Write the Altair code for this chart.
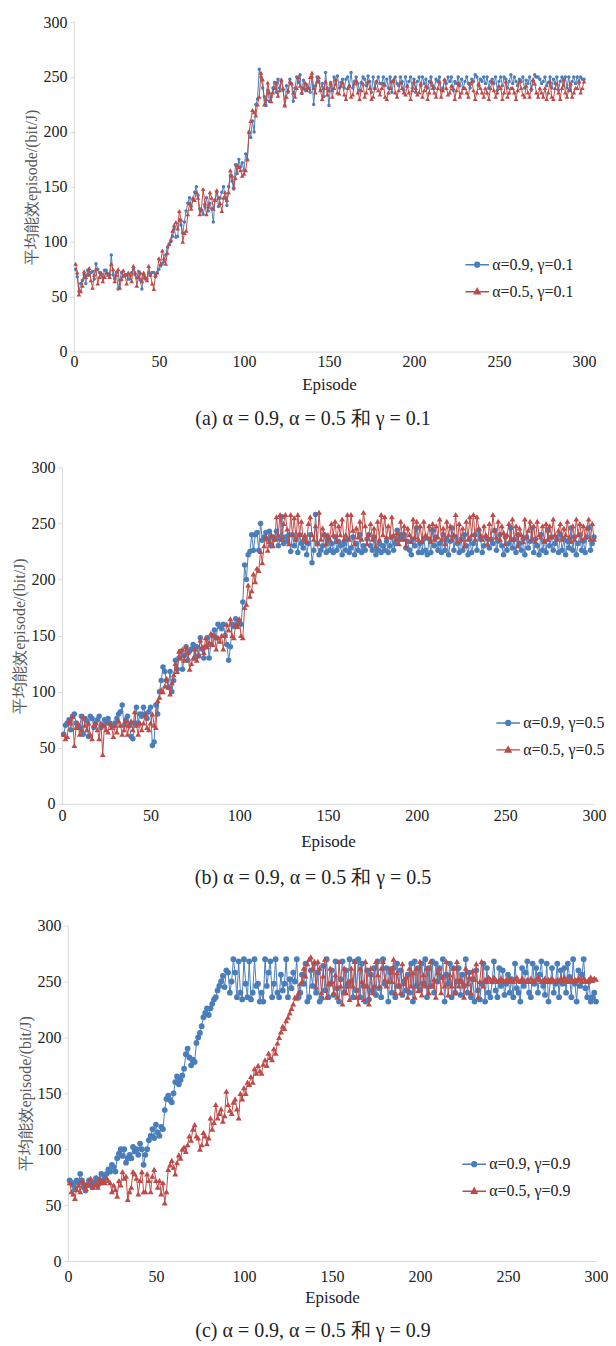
import altair as alt
import pandas as pd

episodes = list(range(1, 301))

series_names_a = ["α=0.9, γ=0.1", "α=0.5, γ=0.1"]
series_names_b = ["α=0.9, γ=0.5", "α=0.5, γ=0.5"]
series_names_c = ["α=0.9, γ=0.9", "α=0.5, γ=0.9"]

captions = [
    "(a)  α = 0.9, α = 0.5 和 γ = 0.1",
    "(b)  α = 0.9, α = 0.5 和 γ = 0.5",
    "(c)  α = 0.9, α = 0.5 和 γ = 0.9",
]

a_blue = [
    75, 68, 55, 62, 65, 70, 62, 74, 70, 72, 73, 66, 80, 75, 72, 70, 68, 74, 74, 71,
    70, 88, 70, 66, 72, 57, 65, 72, 68, 70, 70, 66, 66, 72, 75, 70, 67, 73, 65, 57,
    70, 66, 66, 72, 70, 72, 72, 68, 72, 75, 78, 80, 82, 88, 95, 98, 100, 105, 112, 104,
    105, 120, 115, 108, 118, 128, 135, 140, 132, 138, 145, 150, 142, 130, 128, 125, 132, 140, 128, 135,
    130, 118, 138, 145, 132, 140, 145, 150, 140, 133, 150, 160, 155, 148, 170, 162, 175, 168, 172, 165,
    180, 175, 200, 195, 210, 200, 225, 230, 257, 250, 240, 232, 224, 238, 228, 232, 240, 245, 236, 248,
    240, 246, 238, 224, 242, 236, 248, 244, 228, 240, 250, 245, 252, 235, 247, 238, 243, 240, 236, 250,
    225, 242, 250, 246, 238, 244, 232, 254, 240, 224, 245, 238, 250, 243, 251, 240, 245, 248, 240, 248,
    250, 242, 254, 240, 246, 250, 244, 238, 245, 250, 248, 242, 251, 246, 236, 250, 240, 246, 250, 244,
    244, 250, 242, 248, 240, 250, 236, 246, 250, 244, 242, 250, 246, 238, 250, 242, 246, 250, 240, 248,
    236, 246, 250, 242, 250, 244, 248, 240, 246, 250, 242, 240, 248, 246, 250, 238, 240, 247, 244, 250,
    246, 250, 238, 246, 244, 250, 242, 248, 240, 246, 250, 244, 240, 248, 246, 252, 250, 242, 248, 246,
    250, 244, 250, 240, 246, 248, 244, 250, 238, 246, 250, 242, 250, 248, 240, 246, 252, 244, 250, 246,
    242, 248, 246, 250, 240, 247, 244, 250, 238, 246, 252, 250, 250, 248, 244, 246, 250, 242, 245, 250,
    240, 248, 244, 250, 238, 246, 250, 242, 250, 240, 250, 238, 246, 250, 244, 250, 246, 250, 248, 248,
]
a_red = [
    80, 72, 52, 55, 60, 73, 68, 70, 76, 65, 58, 70, 75, 62, 68, 72, 64, 68, 72, 70,
    68, 80, 75, 64, 70, 75, 58, 66, 74, 70, 62, 72, 70, 64, 78, 72, 60, 68, 72, 64,
    72, 68, 65, 78, 70, 62, 57, 70, 72, 85, 80, 92, 85, 80, 90, 98, 102, 110, 115, 118,
    112, 128, 120, 100, 108, 110, 125, 135, 130, 140, 138, 145, 140, 125, 130, 148, 135, 125, 132, 145,
    140, 130, 138, 147, 140, 135, 128, 140, 145, 138, 145, 165, 160, 150, 158, 170, 168, 165, 160, 162,
    165, 175, 200, 210, 220, 218, 215, 225, 232, 254, 248, 225, 230, 245, 236, 228, 236, 240, 245, 233,
    238, 248, 240, 224, 232, 238, 246, 244, 236, 232, 240, 250, 242, 236, 240, 245, 238, 240, 250, 254,
    240, 236, 246, 250, 238, 230, 240, 246, 234, 238, 244, 232, 240, 248, 236, 235, 242, 245, 234, 230,
    240, 242, 232, 234, 244, 247, 236, 230, 238, 244, 232, 236, 246, 240, 230, 232, 240, 246, 238, 234,
    240, 244, 232, 230, 236, 240, 246, 248, 236, 232, 238, 245, 240, 236, 234, 242, 236, 230, 238, 246,
    240, 234, 236, 244, 232, 238, 242, 230, 236, 246, 240, 236, 232, 240, 246, 232, 238, 248, 240, 234,
    236, 242, 240, 230, 238, 245, 232, 236, 240, 240, 236, 232, 244, 246, 238, 230, 236, 244, 240, 236,
    232, 240, 236, 230, 240, 246, 238, 232, 236, 242, 240, 230, 236, 246, 232, 236, 240, 240, 236, 230,
    238, 246, 240, 234, 232, 242, 236, 232, 240, 248, 244, 236, 232, 240, 236, 232, 240, 230, 236, 246,
    232, 230, 240, 244, 236, 230, 240, 248, 236, 232, 238, 244, 232, 236, 240, 240, 246, 236, 240, 246,
]
b_blue = [
    62, 70, 72, 75, 66, 78, 80, 72, 70, 68, 78, 62, 76, 74, 60, 78, 76, 68, 72, 75,
    78, 68, 70, 75, 72, 76, 72, 70, 70, 72, 76, 80, 82, 88, 70, 75, 78, 70, 60, 58,
    72, 86, 72, 80, 78, 86, 80, 76, 82, 86, 52, 55, 88, 80, 100, 110, 122, 118, 110, 104,
    118, 100, 110, 128, 120, 130, 136, 120, 132, 140, 128, 136, 138, 142, 130, 140, 132, 148, 138, 130,
    140, 148, 130, 142, 150, 155, 148, 160, 158, 156, 160, 150, 142, 128, 140, 160, 158, 165, 160, 162,
    160, 180, 213, 200, 222, 225, 240, 226, 240, 242, 226, 250, 235, 238, 242, 236, 243, 230, 238, 236,
    243, 230, 236, 256, 232, 238, 234, 240, 225, 240, 230, 236, 224, 240, 232, 228, 236, 222, 232, 240,
    215, 226, 258, 232, 222, 226, 230, 240, 224, 236, 226, 232, 224, 238, 226, 234, 230, 222, 232, 226,
    236, 224, 228, 238, 222, 232, 226, 240, 224, 230, 226, 236, 240, 230, 226, 238, 222, 226, 232, 224,
    230, 226, 234, 224, 230, 238, 226, 232, 244, 236, 240, 236, 240, 228, 234, 226, 222, 236, 230, 246,
    224, 232, 224, 236, 226, 222, 236, 224, 244, 230, 238, 226, 232, 224, 240, 226, 236, 222, 234, 246,
    226, 238, 232, 224, 236, 226, 240, 230, 222, 236, 224, 232, 240, 226, 244, 236, 224, 230, 238, 236,
    228, 236, 232, 244, 226, 234, 240, 230, 222, 238, 226, 232, 246, 228, 236, 224, 240, 232, 226, 236,
    222, 238, 228, 234, 246, 224, 236, 230, 222, 240, 226, 234, 224, 244, 230, 238, 226, 232, 236, 224,
    240, 226, 236, 222, 234, 228, 246, 226, 238, 222, 232, 240, 226, 234, 224, 238, 246, 226, 232, 238,
]
b_red = [
    62, 58, 60, 74, 72, 78, 52, 68, 72, 62, 66, 78, 70, 66, 72, 62, 58, 70, 72, 66,
    58, 72, 44, 70, 66, 64, 72, 68, 60, 70, 64, 74, 70, 62, 66, 74, 62, 70, 74, 66,
    82, 70, 62, 72, 66, 72, 80, 68, 66, 72, 80, 70, 68, 92, 95, 102, 100, 105, 112, 104,
    98, 108, 115, 125, 118, 136, 130, 138, 128, 140, 135, 120, 125, 130, 138, 128, 132, 146, 140, 135,
    148, 140, 144, 152, 142, 150, 138, 148, 145, 150, 138, 150, 160, 155, 165, 150, 148, 160, 158, 165,
    150, 148, 175, 178, 195, 185, 190, 205, 198, 210, 208, 225, 215, 230, 238, 226, 234, 240, 230, 236,
    256, 240, 258, 236, 250, 258, 245, 232, 258, 240, 255, 236, 258, 240, 252, 236, 240, 234, 250, 256,
    240, 236, 248, 232, 260, 236, 246, 240, 232, 240, 236, 250, 240, 252, 234, 248, 240, 254, 236, 240,
    258, 236, 258, 244, 232, 246, 238, 252, 236, 260, 248, 232, 240, 250, 236, 246, 230, 252, 236, 258,
    240, 256, 238, 248, 238, 256, 240, 236, 242, 232, 252, 236, 248, 230, 246, 240, 234, 254, 238, 252,
    236, 248, 234, 252, 240, 238, 248, 234, 250, 236, 248, 238, 254, 236, 246, 232, 252, 240, 248, 236,
    240, 258, 234, 250, 236, 246, 230, 252, 236, 256, 240, 258, 236, 256, 246, 240, 236, 248, 240, 232,
    250, 236, 258, 244, 238, 252, 236, 248, 242, 232, 240, 250, 236, 254, 236, 248, 230, 246, 240, 234,
    254, 238, 244, 252, 236, 248, 234, 252, 240, 238, 248, 234, 250, 236, 248, 238, 254, 240, 236, 244,
    250, 236, 246, 240, 252, 238, 234, 248, 236, 254, 240, 250, 236, 248, 238, 246, 254, 236, 250, 236,
]
c_blue = [
    72, 70, 68, 64, 72, 70, 78, 72, 66, 63, 68, 72, 68, 66, 70, 74, 68, 70, 78, 72,
    75, 78, 82, 80, 86, 84, 80, 92, 96, 100, 94, 100, 88, 92, 95, 92, 102, 98, 100, 95,
    105, 100, 86, 95, 100, 108, 112, 118, 110, 122, 115, 112, 120, 118, 135, 145, 148, 144, 142, 150,
    160, 165, 158, 162, 166, 172, 185, 190, 182, 175, 180, 178, 195, 200, 204, 210, 218, 222, 226, 220,
    226, 230, 234, 236, 242, 246, 250, 255, 245, 260, 258, 240, 250, 270, 258, 236, 268, 240, 234, 270,
    248, 236, 268, 234, 240, 270, 246, 248, 232, 240, 232, 270, 246, 258, 268, 236, 248, 270, 240, 236,
    256, 242, 248, 270, 236, 252, 244, 258, 250, 270, 236, 240, 256, 248, 266, 232, 236, 260, 246, 266,
    240, 258, 232, 235, 264, 242, 270, 236, 248, 260, 238, 268, 244, 232, 252, 268, 240, 260, 246, 270,
    250, 236, 268, 242, 270, 236, 266, 246, 232, 260, 234, 256, 242, 262, 238, 268, 244, 236, 270, 248,
    262, 232, 258, 240, 262, 236, 266, 246, 260, 238, 250, 242, 256, 240, 266, 232, 268, 246, 262, 242,
    266, 248, 270, 236, 262, 246, 268, 240, 266, 250, 262, 254, 270, 232, 256, 248, 266, 236, 262, 240,
    250, 262, 238, 256, 246, 270, 240, 258, 236, 252, 232, 260, 242, 234, 248, 266, 232, 262, 240, 236,
    250, 268, 242, 236, 262, 246, 260, 238, 248, 256, 240, 252, 236, 266, 244, 240, 232, 262, 246, 258,
    268, 240, 236, 266, 248, 262, 240, 256, 268, 246, 238, 266, 232, 250, 262, 240, 248, 266, 236, 260,
    248, 262, 240, 266, 254, 236, 270, 248, 232, 260, 246, 256, 270, 244, 236, 250, 232, 236, 240, 232,
]
c_red = [
    70, 62, 60, 56, 64, 68, 62, 72, 70, 65, 68, 70, 74, 66, 68, 70, 66, 74, 70, 72,
    70, 74, 72, 70, 62, 68, 64, 58, 72, 68, 80, 74, 76, 55, 62, 66, 80, 78, 74, 60,
    72, 80, 62, 62, 78, 72, 62, 76, 82, 72, 66, 72, 60, 70, 52, 62, 82, 86, 90, 84,
    78, 88, 95, 92, 100, 102, 98, 104, 112, 108, 118, 122, 112, 110, 100, 104, 115, 112, 105, 110,
    128, 118, 124, 140, 128, 132, 136, 125, 130, 152, 140, 135, 132, 142, 145, 136, 128, 150, 145, 155,
    150, 160, 158, 165, 160, 172, 168, 175, 170, 168, 176, 180, 175, 186, 182, 180, 190, 186, 195, 200,
    205, 210, 208, 215, 218, 222, 226, 230, 236, 235, 240, 248, 250, 262, 255, 266, 270, 272, 262, 268,
    245, 268, 262, 240, 255, 270, 236, 248, 262, 250, 240, 256, 236, 268, 246, 230, 262, 240, 250, 234,
    262, 246, 268, 236, 230, 262, 250, 234, 268, 246, 230, 262, 240, 246, 268, 256, 246, 262, 268, 252,
    246, 250, 262, 250, 270, 240, 258, 246, 240, 266, 248, 254, 236, 262, 246, 258, 236, 262, 242, 268,
    238, 256, 246, 262, 240, 268, 246, 252, 236, 258, 262, 240, 254, 246, 268, 238, 256, 246, 262, 240,
    268, 246, 252, 250, 236, 262, 248, 254, 240, 260, 252, 266, 236, 250, 268, 246, 252, 250, 254, 252,
    250, 254, 252, 250, 251, 253, 251, 250, 252, 250, 253, 251, 250, 252, 254, 251, 250, 253, 251, 250,
    252, 250, 253, 251, 250, 252, 254, 252, 250, 251, 253, 250, 252, 251, 253, 251, 250, 252, 250, 253,
    251, 254, 252, 250, 251, 253, 250, 252, 251, 253, 252, 250, 253, 251, 250, 252, 254, 251, 253, 252,
]

BLUE = "#4a7ebb"
RED = "#be4b48"
SERIF = "Times New Roman, Liberation Serif, serif"
LEGEND_SHAPES = [
    "M-1,0L1,0M-0.2,0A0.2,0.2 0 1,0 0.2,0A0.2,0.2 0 1,0 -0.2,0",
    "M-1,0L1,0M0,-0.26L0.24,0.18L-0.24,0.18Z",
]
TICKS = [0, 50, 100, 150, 200, 250, 300]


def make_panel(names, blue, red, caption, dx, w, h, circle_size, tri_size,
               x_label_pad, x_title_pad, leg_x, leg_y, cap_dx, cap_offset):
    df = pd.DataFrame({
        "ep": episodes * 2,
        "val": blue + red,
        "series": [names[0]] * len(blue) + [names[1]] * len(red),
    })

    def leg():
        return alt.Legend(
            title=None, orient="none", legendX=leg_x, legendY=leg_y, padding=0,
            labelFont=SERIF, labelFontSize=16, labelColor="#222222",
            symbolSize=560, symbolStrokeWidth=1.5, rowPadding=6, labelOffset=2,
        )

    x = alt.X("ep:Q", title="Episode",
              scale=alt.Scale(domain=[0, 300], range=[dx, dx + w], nice=False),
              axis=alt.Axis(values=TICKS, tickSize=0, grid=False,
                            domainColor="#d9d9d9",
                            labelFont=SERIF, labelFontSize=16, labelColor="#222222",
                            labelPadding=x_label_pad, labelFlush=False,
                            titleFont=SERIF, titleFontSize=17, titleColor="#222222",
                            titleFontWeight="normal", titlePadding=x_title_pad))
    y = alt.Y("val:Q", title="平均能效episode/(bit/J)",
              scale=alt.Scale(domain=[0, 300], nice=False),
              axis=alt.Axis(values=TICKS, tickSize=4, grid=False, offset=-dx,
                            domainColor="#d9d9d9", tickColor="#d9d9d9",
                            labelFont=SERIF, labelFontSize=16, labelColor="#222222",
                            labelPadding=3,
                            titleFont=SERIF, titleFontSize=16, titleColor="#595959",
                            titleFontWeight="normal", titlePadding=3))
    order = alt.Order("ep:Q")
    base = alt.Chart(df)
    line_blue = base.transform_filter(alt.datum.series == names[0]).mark_line(
        strokeWidth=1, color=BLUE).encode(x=x, y=y, order=order)
    pts_blue = base.transform_filter(alt.datum.series == names[0]).mark_point(
        shape="circle", filled=True, size=circle_size, opacity=1, color=BLUE).encode(x=x, y=y)
    line_red = base.transform_filter(alt.datum.series == names[1]).mark_line(
        strokeWidth=1, color=RED).encode(x=x, y=y, order=order)
    pts_red = base.transform_filter(alt.datum.series == names[1]).mark_point(
        shape="triangle-up", filled=True, size=tri_size, opacity=1, color=RED).encode(x=x, y=y)
    legend_layer = base.transform_filter("false").mark_point(
        filled=True, opacity=1, strokeWidth=1.5).encode(
        x=x, y=y,
        fill=alt.Fill("series:N", scale=alt.Scale(domain=names, range=[BLUE, RED]), legend=leg()),
        stroke=alt.Stroke("series:N", scale=alt.Scale(domain=names, range=[BLUE, RED]), legend=leg()),
        shape=alt.Shape("series:N", scale=alt.Scale(domain=names, range=LEGEND_SHAPES), legend=leg()),
    )
    return alt.layer(line_blue, pts_blue, line_red, pts_red, legend_layer).properties(
        width=dx + w, height=h,
        title=alt.TitleParams(caption, orient="bottom", anchor="middle", frame="group",
                              font=SERIF, fontSize=20, fontWeight="normal",
                              color="#222222", dx=cap_dx, offset=cap_offset),
    )


pa = make_panel(series_names_a, a_blue, a_red, captions[0], 12, 511, 330, 12, 22,
                2, 7, 403, 230, -10, 17)
pb = make_panel(series_names_b, b_blue, b_red, captions[1], 0, 533, 337, 30, 34,
                4, 10, 434, 243, -15, 18)
pc = make_panel(series_names_c, c_blue, c_red, captions[2], 6, 529, 336, 34, 36,
                8, 5, 400, 226, -16, 15)

chart = alt.vconcat(pa, pb, pc, spacing=30).resolve_scale(
    fill="independent", stroke="independent", shape="independent",
    x="independent", y="independent"
).resolve_axis(x="independent", y="independent").properties(
    padding={"left": 4, "top": 5, "right": 0, "bottom": 0}
).configure_view(stroke=None)

chart.save("out.html", embed_options={"renderer": "svg", "actions": False})
